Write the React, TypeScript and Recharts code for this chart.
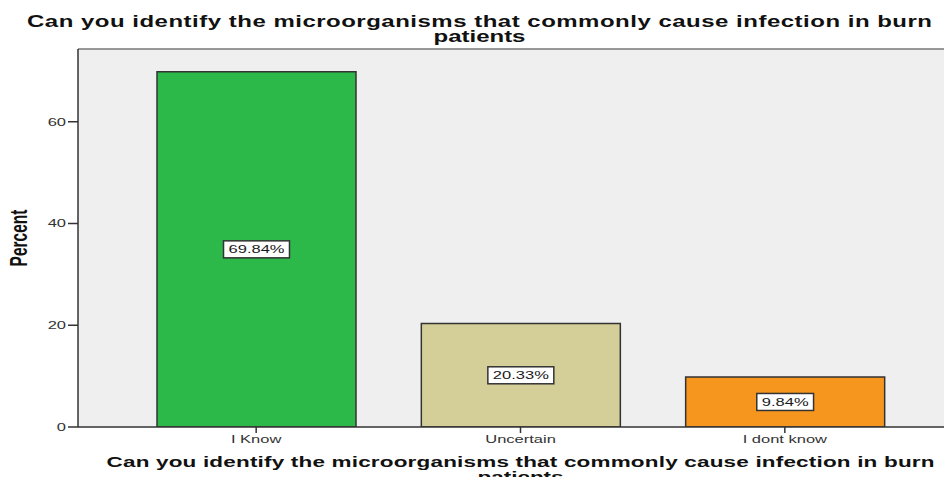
import React from 'react';
import {
  BarChart,
  Bar,
  XAxis,
  YAxis,
  CartesianGrid,
  ReferenceLine,
  LabelList,
  Cell
} from 'recharts';

// Response categories and their share of respondents (%)
const categories = ['I Know', 'Uncertain', 'I dont know'];
const percents = [69.84, 20.33, 9.84];
const barColors = ['#2db84a', '#d4ce98', '#f6961f'];
const yTicks = [0, 20, 40, 60];
const Y_MAX = 74.3;

const QUESTION = 'Can you identify the microorganisms that commonly cause infection in burn';
const QUESTION_TAIL = 'patients';

const data = categories.map((name, i) => ({ name, value: percents[i] }));

// SPSS output is stretched horizontally, so text gets a 1.5x x-scale
const STRETCH = 1.5;
const FONT = '"Liberation Sans", Arial, sans-serif';

// rough Arial glyph widths (em) for the percent labels
const glyphEm = (ch: string) => (ch === '.' ? 0.278 : ch === '%' ? 0.889 : 0.556);

const PercentLabel = (props: any) => {
  const { x, y, width, height, value } = props;
  const text = `${Number(value).toFixed(2)}%`;
  const textW = text.split('').reduce((s, c) => s + glyphEm(c), 0) * 11 * STRETCH;
  const boxW = textW + 10;
  const boxH = 17;
  const cx = x + width / 2;
  const cy = y + height / 2;
  return (
    <g>
      <rect
        x={cx - boxW / 2}
        y={cy - boxH / 2}
        width={boxW}
        height={boxH}
        fill="#ffffff"
        stroke="#333333"
        strokeWidth={1.5}
      />
      <g transform={`translate(${cx},${cy})`}>
        <text
          transform={`scale(${STRETCH},1)`}
          textAnchor="middle"
          dy="0.36em"
          fontSize={11}
          fontFamily={FONT}
          fill="#1a1a1a"
        >
          {text}
        </text>
      </g>
    </g>
  );
};

const XTick = (props: any) => {
  const { x, y, payload } = props;
  return (
    <g transform={`translate(${x},${y})`}>
      <text
        transform={`scale(${STRETCH},1)`}
        textAnchor="middle"
        dy="0.71em"
        fontSize={11}
        fontFamily={FONT}
        fill="#333333"
      >
        {payload.value}
      </text>
    </g>
  );
};

const YTick = (props: any) => {
  const { x, y, payload } = props;
  return (
    <g transform={`translate(${x},${y})`}>
      <text
        transform={`scale(${STRETCH},1)`}
        textAnchor="end"
        dy="0.36em"
        fontSize={11}
        fontFamily={FONT}
        fill="#333333"
      >
        {payload.value}
      </text>
    </g>
  );
};

const YTitle = (props: any) => {
  const { viewBox } = props;
  const cy = viewBox.y + viewBox.height / 2;
  return (
    <text
      transform={`translate(27,${cy}) scale(${STRETCH},1) rotate(-90)`}
      textAnchor="middle"
      fontSize={15.5}
      fontWeight="bold"
      fontFamily={FONT}
      fill="#111111"
    >
      Percent
    </text>
  );
};

// two-line bold title; the long line is spread to a fixed width
const TitleLines = ({ cx, y, size, gap, longWidth }: any) => (
  <g>
    {[QUESTION, QUESTION_TAIL].map((line, i) => (
      <g key={i} transform={`translate(${cx},${y + i * gap})`}>
        <text
          transform={`scale(${STRETCH},1)`}
          textAnchor="middle"
          fontSize={size}
          fontWeight="bold"
          fontFamily={FONT}
          fill="#111111"
          textLength={i === 0 ? longWidth / STRETCH : undefined}
          lengthAdjust={i === 0 ? 'spacing' : undefined}
        >
          {line}
        </text>
      </g>
    ))}
  </g>
);

const XTitle = (props: any) => {
  const { viewBox } = props;
  return (
    <TitleLines
      cx={viewBox.x + viewBox.width / 2}
      y={viewBox.y + 40}
      size={15}
      gap={15}
      longWidth={828}
    />
  );
};

export default function App() {
  return (
    <div
      style={{
        margin: -8,
        width: 952,
        height: 485,
        overflow: 'hidden',
        position: 'relative',
        background: '#ffffff'
      }}
    >
      <svg
        width={952}
        height={48}
        style={{ position: 'absolute', left: 0, top: 0 }}
      >
        <TitleLines cx={479.5} y={26.5} size={16} gap={15.5} longWidth={905} />
      </svg>
      <BarChart
        width={975}
        height={485}
        data={data}
        margin={{ top: 49, right: 12, left: 0, bottom: 0 }}
      >
        <CartesianGrid fill="#efefef" stroke="none" />
        <ReferenceLine y={Y_MAX} stroke="#777777" strokeWidth={1.5} />
        <XAxis
          dataKey="name"
          height={58}
          padding={{ left: 46, right: 46 }}
          tickSize={6}
          tickMargin={2}
          stroke="#333333"
          strokeWidth={1.5}
          tick={<XTick />}
          label={<XTitle />}
        />
        <YAxis
          width={78}
          domain={[0, Y_MAX]}
          ticks={yTicks}
          tickSize={10}
          tickMargin={2}
          stroke="#333333"
          strokeWidth={1.5}
          tick={<YTick />}
          label={<YTitle />}
          allowDataOverflow
        />
        <Bar
          dataKey="value"
          barSize={199}
          stroke="#333333"
          strokeWidth={1.5}
          isAnimationActive={false}
        >
          {data.map((d, i) => (
            <Cell key={d.name} fill={barColors[i]} />
          ))}
          <LabelList dataKey="value" position="center" content={<PercentLabel />} />
        </Bar>
      </BarChart>
    </div>
  );
}
